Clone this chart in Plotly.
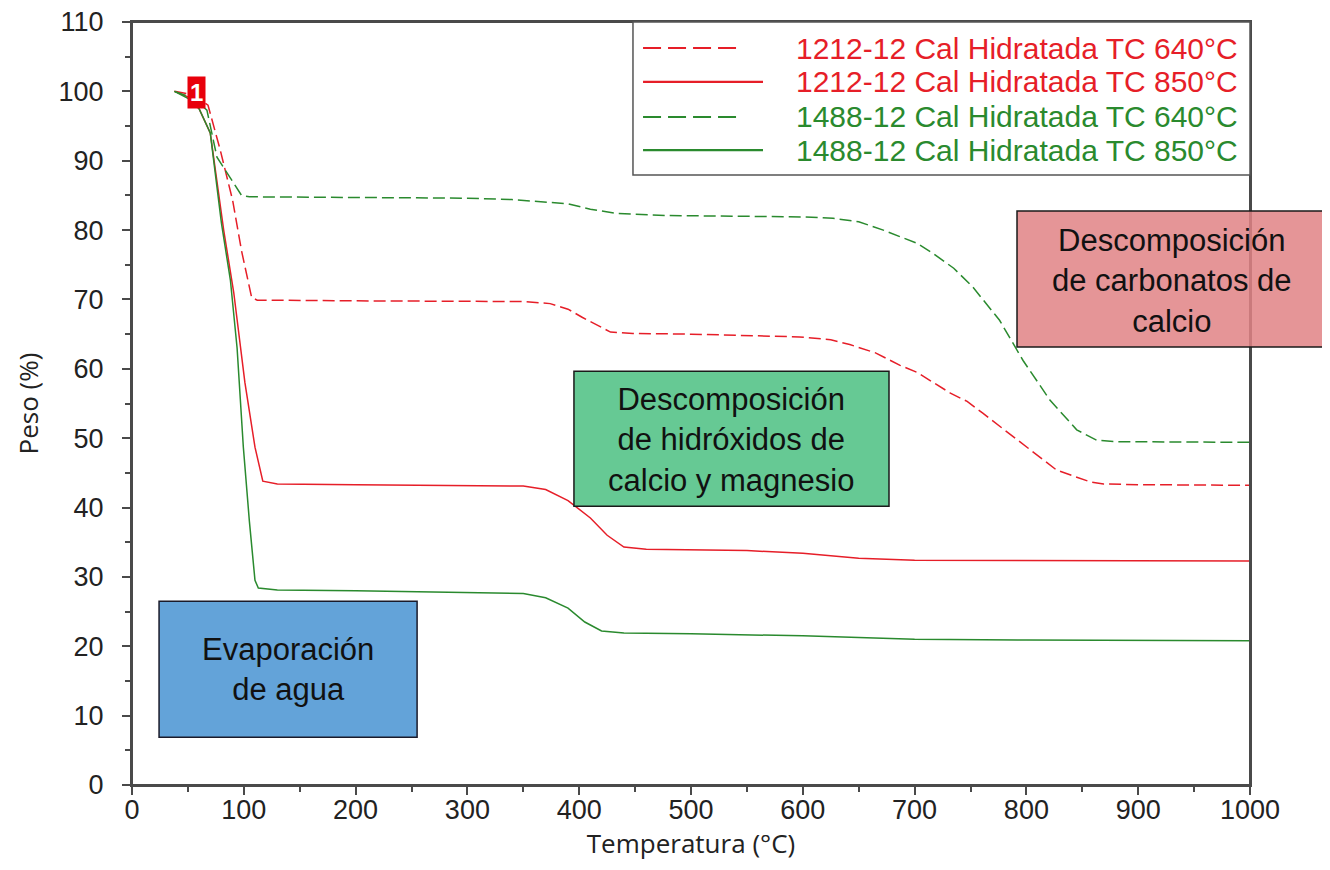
import plotly.graph_objects as go

# ---------------- data ----------------
# 1212-12 Cal Hidratada TC 640°C (red, dashed)
r640_x = [38, 55, 68, 79, 90, 98, 107, 112, 200, 300, 329, 350, 374, 390, 403, 428, 448, 500,
          597, 625, 642, 665, 687, 702, 732, 747, 761, 792, 827, 857, 869, 900, 1000]
r640_y = [100, 99.5, 98, 91.5, 84.3, 77, 70.3, 69.9, 69.8, 69.8, 69.8, 69.7, 69.4, 68.6, 67.4,
          65.3, 65.1, 65.0, 64.6, 64.2, 63.5, 62.3, 60.5, 59.5, 56.5, 55.3, 53.6, 49.7, 45.4,
          43.7, 43.4, 43.3, 43.2]

# 1212-12 Cal Hidratada TC 850°C (red, solid)
r850_x = [38, 50, 60, 70, 82, 91, 101, 110, 117, 130, 200, 300, 350, 370, 390, 410, 425, 440,
          460, 550, 600, 650, 700, 1000]
r850_y = [100, 99.2, 97.5, 94, 80, 71, 58, 48.7, 43.8, 43.4, 43.3, 43.2, 43.1, 42.6, 41, 38.5,
          36, 34.3, 34.0, 33.8, 33.4, 32.7, 32.4, 32.3]

# 1488-12 Cal Hidratada TC 640°C (green, dashed)
g640_x = [38, 50, 60, 67, 76, 88, 98, 105, 200, 300, 340, 370, 390, 410, 434, 478, 550, 600,
          627, 650, 672, 702, 716, 735, 752, 776, 797, 821, 845, 863, 880, 1000]
g640_y = [100, 99.3, 98.3, 97.3, 90.5, 87.6, 85, 84.8, 84.7, 84.6, 84.4, 84.1, 83.8, 83,
          82.4, 82.1, 82.0, 81.9, 81.7, 81.2, 80, 78.1, 76.7, 74.5, 71.8, 67, 61.2, 55.5,
          51.2, 49.7, 49.5, 49.4]

# 1488-12 Cal Hidratada TC 850°C (green, solid)
g850_x = [38, 50, 60, 70, 80, 88, 94, 99.6, 105, 110, 113, 130, 200, 300, 350, 370, 390, 405,
          420, 440, 500, 600, 650, 700, 800, 1000]
g850_y = [100, 99, 97.5, 94, 81, 72.8, 63, 48.7, 38, 29.5, 28.4, 28.1, 28.0, 27.8, 27.6, 27,
          25.5, 23.5, 22.2, 21.9, 21.8, 21.5, 21.2, 21.0, 20.9, 20.8]

series_names = [
    "1212-12 Cal Hidratada TC 640°C",
    "1212-12 Cal Hidratada TC 850°C",
    "1488-12 Cal Hidratada TC 640°C",
    "1488-12 Cal Hidratada TC 850°C",
]

x_ticks = [0, 100, 200, 300, 400, 500, 600, 700, 800, 900, 1000]
y_ticks = [0, 10, 20, 30, 40, 50, 60, 70, 80, 90, 100, 110]

# ---------------- styling ----------------
RED = "#E61E28"
GREEN = "#2A8A2E"
AXIS = "#4a4a4a"
FONT = "Liberation Sans, Arial, sans-serif"
TFONT = "Open Sans, Segoe UI, sans-serif"

fig = go.Figure()
specs = [
    (r640_x, r640_y, RED, "12px,5px"),
    (r850_x, r850_y, RED, "solid"),
    (g640_x, g640_y, GREEN, "12px,5px"),
    (g850_x, g850_y, GREEN, "solid"),
]
for (xs, ys, col, dash), name in zip(specs, series_names):
    fig.add_trace(go.Scatter(x=xs, y=ys, mode="lines", name=name,
                             line=dict(color=col, width=1.5, dash=dash),
                             showlegend=False))

shapes = []
annotations = []

# Plot frame
shapes.append(dict(type="rect", xref="paper", yref="paper", x0=0, x1=1, y0=0, y1=1,
                   fillcolor="rgba(0,0,0,0)", line=dict(color=AXIS, width=2), layer="above"))

# Phase boxes (data coordinates)
shapes.append(dict(type="rect", xref="x", yref="y", x0=24.2, x1=255, y0=6.9, y1=26.5,
                   fillcolor="#63A3D9", line=dict(color="#1a1a2a", width=1.5), layer="above"))
annotations.append(dict(x=139.6, y=16.7, xref="x", yref="y", showarrow=False,
                        xanchor="center", yanchor="middle",
                        text="Evaporación<br>de agua",
                        font=dict(family=FONT, size=31, color="#111111")))

shapes.append(dict(type="rect", xref="x", yref="y", x0=395.3, x1=677.1, y0=40.2, y1=59.65,
                   fillcolor="#66C994", line=dict(color="#1a1a1a", width=1.5), layer="above"))
annotations.append(dict(x=536, y=49.8, xref="x", yref="y", showarrow=False,
                        xanchor="center", yanchor="middle",
                        text="Descomposición<br>de hidróxidos de<br>calcio y magnesio",
                        font=dict(family=FONT, size=31, color="#111111")))

# Red box extends beyond plot (paper coordinates)
shapes.append(dict(type="rect", xref="paper", yref="paper", x0=0.7916, x1=1.12,
                   y0=0.574, y1=0.7523, fillcolor="rgba(225,130,133,0.85)",
                   line=dict(color="#1a1a1a", width=1.5), layer="above"))
annotations.append(dict(x=0.930, y=0.6606, xref="paper", yref="paper", showarrow=False,
                        xanchor="center", yanchor="middle",
                        text="Descomposición<br>de carbonatos de<br>calcio",
                        font=dict(family=FONT, size=31, color="#111111")))

# Marker "1"
annotations.append(dict(x=58, y=99.9, xref="x", yref="y", showarrow=False, text="<b>1</b>",
                        xanchor="center", yanchor="middle",
                        bgcolor="#E8000B", borderpad=2,
                        font=dict(family=FONT, size=24, color="white")))

# Manual legend
shapes.append(dict(type="rect", xref="paper", yref="paper", x0=0.4481, x1=1.0,
                   y0=0.7995, y1=1.0, fillcolor="white",
                   line=dict(color="#555555", width=1.5), layer="above"))
row_y = [0.9659, 0.9214, 0.8755, 0.8322]
leg_cols = [RED, RED, GREEN, GREEN]
leg_dash = ["18px,7px", "solid", "18px,7px", "solid"]
leg_end = [0.5411, 0.5644, 0.5411, 0.5644]
for name, yy, col, dsh, xe in zip(series_names, row_y, leg_cols, leg_dash, leg_end):
    shapes.append(dict(type="line", xref="paper", yref="paper", x0=0.4571, x1=xe,
                       y0=yy, y1=yy, line=dict(color=col, width=2.2, dash=dsh), layer="above"))
    annotations.append(dict(x=0.9911, y=yy, xref="paper", yref="paper", showarrow=False,
                            xanchor="right", yanchor="middle", text=name,
                            font=dict(family=FONT, size=30, color=col)))

fig.update_layout(
    width=1330, height=870,
    margin=dict(l=124, r=88, t=14, b=93),
    paper_bgcolor="white", plot_bgcolor="white",
    shapes=shapes, annotations=annotations, showlegend=False,
)

fig.update_xaxes(
    range=[0, 1000], tickvals=x_ticks, ticktext=[str(v) for v in x_ticks],
    ticks="outside", ticklen=8, tickwidth=1.5, tickcolor=AXIS,
    minor=dict(ticks="outside", dtick=50, ticklen=5, tickwidth=1.5, tickcolor=AXIS, showgrid=False),
    showline=True, linecolor=AXIS, linewidth=2, mirror=True, showgrid=False, zeroline=False,
    tickfont=dict(family=FONT, size=27, color="#222222"), automargin=False,
    ticklabelstandoff=-8, ticklabeloverflow="allow",
    title=dict(text="Temperatura (°C)", font=dict(family=TFONT, size=26, color="#222222"),
               standoff=0),
)
fig.update_yaxes(
    range=[0, 110], tickvals=y_ticks, ticktext=[str(v) for v in y_ticks],
    ticks="outside", ticklen=8, tickwidth=1.5, tickcolor=AXIS,
    minor=dict(ticks="outside", dtick=5, ticklen=5, tickwidth=1.5, tickcolor=AXIS, showgrid=False),
    showline=True, linecolor=AXIS, linewidth=2, mirror=True, showgrid=False, zeroline=False,
    tickfont=dict(family=FONT, size=27, color="#222222"), ticklabelstandoff=13,
    ticklabeloverflow="allow", automargin=False,
    title=dict(text="Peso (%)", font=dict(family=TFONT, size=26, color="#222222"),
               standoff=12),
)

fig.write_html("out.html")
